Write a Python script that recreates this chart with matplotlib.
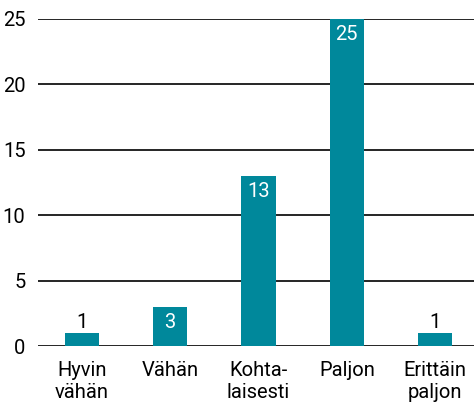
import matplotlib
matplotlib.use("Agg")
import matplotlib.pyplot as plt

categories = ["Hyvin\nvähän", "Vähän", "Kohta-\nlaisesti", "Paljon", "Erittäin\npaljon"]
values = [1, 3, 13, 25, 1]
y_ticks = [0, 5, 10, 15, 20, 25]

BAR_COLOR = "#00889b"

plt.rcParams["font.family"] = ["Roboto", "DejaVu Sans"]

fig = plt.figure(figsize=(4.74, 4.08), dpi=100)
ax = fig.add_axes([38 / 474, 62 / 408, 1 - 38 / 474, (346 - 19) / 408])

x = list(range(len(values)))
bars = ax.bar(x, values, width=0.39, color=BAR_COLOR, zorder=3)

ax.set_xlim(-0.497, 4.44)
ax.set_ylim(0, 25)
ax.set_yticks(y_ticks)
ax.yaxis.grid(True, color="black", linewidth=1.2, zorder=1)
ax.set_axisbelow(True)
for spine in ax.spines.values():
    spine.set_visible(False)
ax.tick_params(axis="y", length=0, pad=9, labelsize=14.5)
ax.tick_params(axis="x", length=0, pad=11, labelsize=14.5)
ax.set_xticks(x)
ax.set_xticklabels(categories, linespacing=1.2)

# values: white inside tall bars, black above the short ones
for xi, v in zip(x, values):
    if v >= 3:
        ax.text(xi, v - 0.45, str(v), ha="center", va="top", color="white", fontsize=14.5, zorder=4)
    else:
        ax.text(xi, v + 0.05, str(v), ha="center", va="bottom", color="black", fontsize=14.5, zorder=4)

fig.savefig("out.png", dpi=100)
